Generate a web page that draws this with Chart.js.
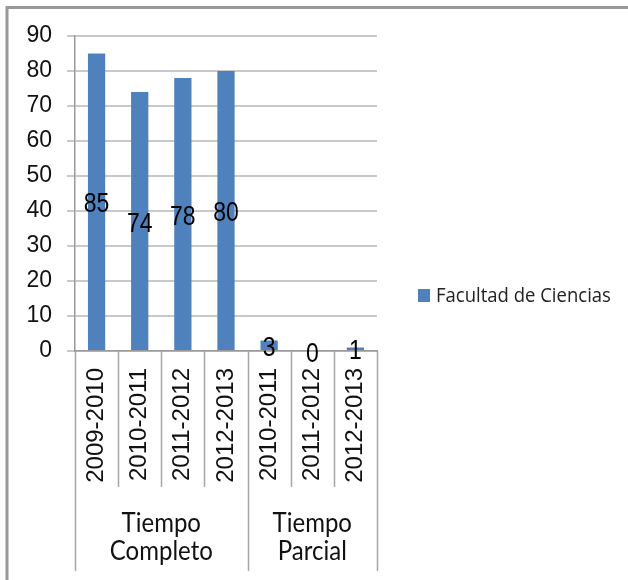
<!DOCTYPE html>
<html>
<head>
<meta charset="utf-8">
<script src="https://cdn.jsdelivr.net/npm/chart.js@4/dist/chart.umd.min.js"></script>
<style>
  html, body { margin: 0; padding: 0; background: #fff; }
  #wrap { position: relative; width: 628px; height: 580px; }
</style>
</head>
<body>
<div id="wrap"><canvas id="chart" width="628" height="580"></canvas></div>
<script>
// years on the x axis, two groups below them
const years = ['2009-2010', '2010-2011', '2011-2012', '2012-2013', '2010-2011', '2011-2012', '2012-2013'];
const groups = ['Tiempo Completo', 'Tiempo Parcial'];
const groupSizes = [4, 3];
const seriesName = 'Facultad de Ciencias';
const values = [85, 74, 78, 80, 3, 0, 1];
const yTicks = [0, 10, 20, 30, 40, 50, 60, 70, 80, 90];

const BLUE = '#4F81BD';

// text a bit taller than wide, like the original
function tallText(ctx, text, x, y, sy) {
    ctx.save();
    ctx.translate(x, y);
    ctx.scale(1, sy);
    ctx.fillText(text, 0, 0);
    ctx.restore();
}

// frame, data labels, group labels, legend
let extras = {
    id: 'extras',
    beforeDraw(chart) {
        let ctx = chart.ctx;
        ctx.save();
        ctx.strokeStyle = '#9a9a9a';
        ctx.lineWidth = 3;
        ctx.beginPath();
        ctx.moveTo(7, 580);
        ctx.lineTo(7, 7.5);
        ctx.lineTo(628, 7.5);
        ctx.stroke();
        ctx.restore();
    },
    afterDatasetsDraw(chart) {
        let ctx = chart.ctx;
        let area = chart.chartArea;
        let meta = chart.getDatasetMeta(0);
        ctx.save();

        // values in the middle of each bar
        ctx.fillStyle = '#000';
        ctx.font = '23px "Liberation Sans"';
        ctx.textAlign = 'center';
        ctx.textBaseline = 'middle';
        meta.data.forEach((bar, i) => {
            tallText(ctx, String(values[i]), bar.x, (bar.y + bar.base) / 2 + 3, 1.2);
        });

        // category separators and group labels
        let step = (area.right - area.left) / years.length;
        ctx.strokeStyle = '#a6a6a6';
        ctx.lineWidth = 1.5;
        let bottom = area.bottom;
        let edge = 0;
        let boundaries = [0];
        groupSizes.forEach(n => { edge += n; boundaries.push(edge); });
        for (let i = 0; i <= years.length; i++) {
            let px = Math.round(area.left + i * step) + 0.5;
            let long = boundaries.includes(i);
            ctx.beginPath();
            ctx.moveTo(px, bottom);
            ctx.lineTo(px, long ? 571 : 487);
            ctx.stroke();
        }

        ctx.font = '24px Lato';
        ctx.fillStyle = '#111';
        for (let g = 0; g < groups.length; g++) {
            let cx = area.left + (boundaries[g] + boundaries[g + 1]) / 2 * step;
            let words = groups[g].split(' ');
            tallText(ctx, words[0], cx, 523, 1.15);
            tallText(ctx, words[1], cx, 551, 1.15);
        }

        // legend
        ctx.fillStyle = BLUE;
        ctx.fillRect(418, 289, 12, 13);
        ctx.fillStyle = '#222';
        ctx.textAlign = 'left';
        ctx.font = '18.5px "Open Sans"';
        tallText(ctx, chart.data.datasets[0].label, 436, 296, 1.05);
        ctx.restore();
    }
};

let chart = new Chart('chart', {
    type: 'bar',
    data: {
        labels: years,
        datasets: [{
            label: seriesName,
            data: values,
            backgroundColor: BLUE,
            barPercentage: 0.4,
            categoryPercentage: 1
        }]
    },
    options: {
        responsive: false,
        animation: false,
        layout: {
            padding: { top: 36, right: 251, bottom: 0, left: 0 }
        },
        plugins: {
            legend: { display: false },
            tooltip: { enabled: false }
        },
        scales: {
            x: {
                grid: { display: false, drawTicks: false },
                border: { display: true, color: '#9a9a9a', width: 1.5 },
                ticks: {
                    color: '#111',
                    font: { family: 'Liberation Sans', size: 24 },
                    autoSkip: false,
                    minRotation: 90,
                    maxRotation: 90,
                    padding: 17
                },
                afterFit: scale => { scale.height = 229; }
            },
            y: {
                min: 0,
                max: 90,
                afterBuildTicks: scale => { scale.ticks = yTicks.map(v => ({ value: v })); },
                grid: { color: '#c9c9c9', lineWidth: 2, tickLength: 8 },
                border: { display: true, color: '#9a9a9a', width: 1.5 },
                ticks: { color: '#111', font: { family: 'Liberation Sans', size: 23 }, padding: 15 },
                afterFit: scale => { scale.width = 75; }
            }
        }
    },
    plugins: [extras]
});
</script>
</body>
</html>
